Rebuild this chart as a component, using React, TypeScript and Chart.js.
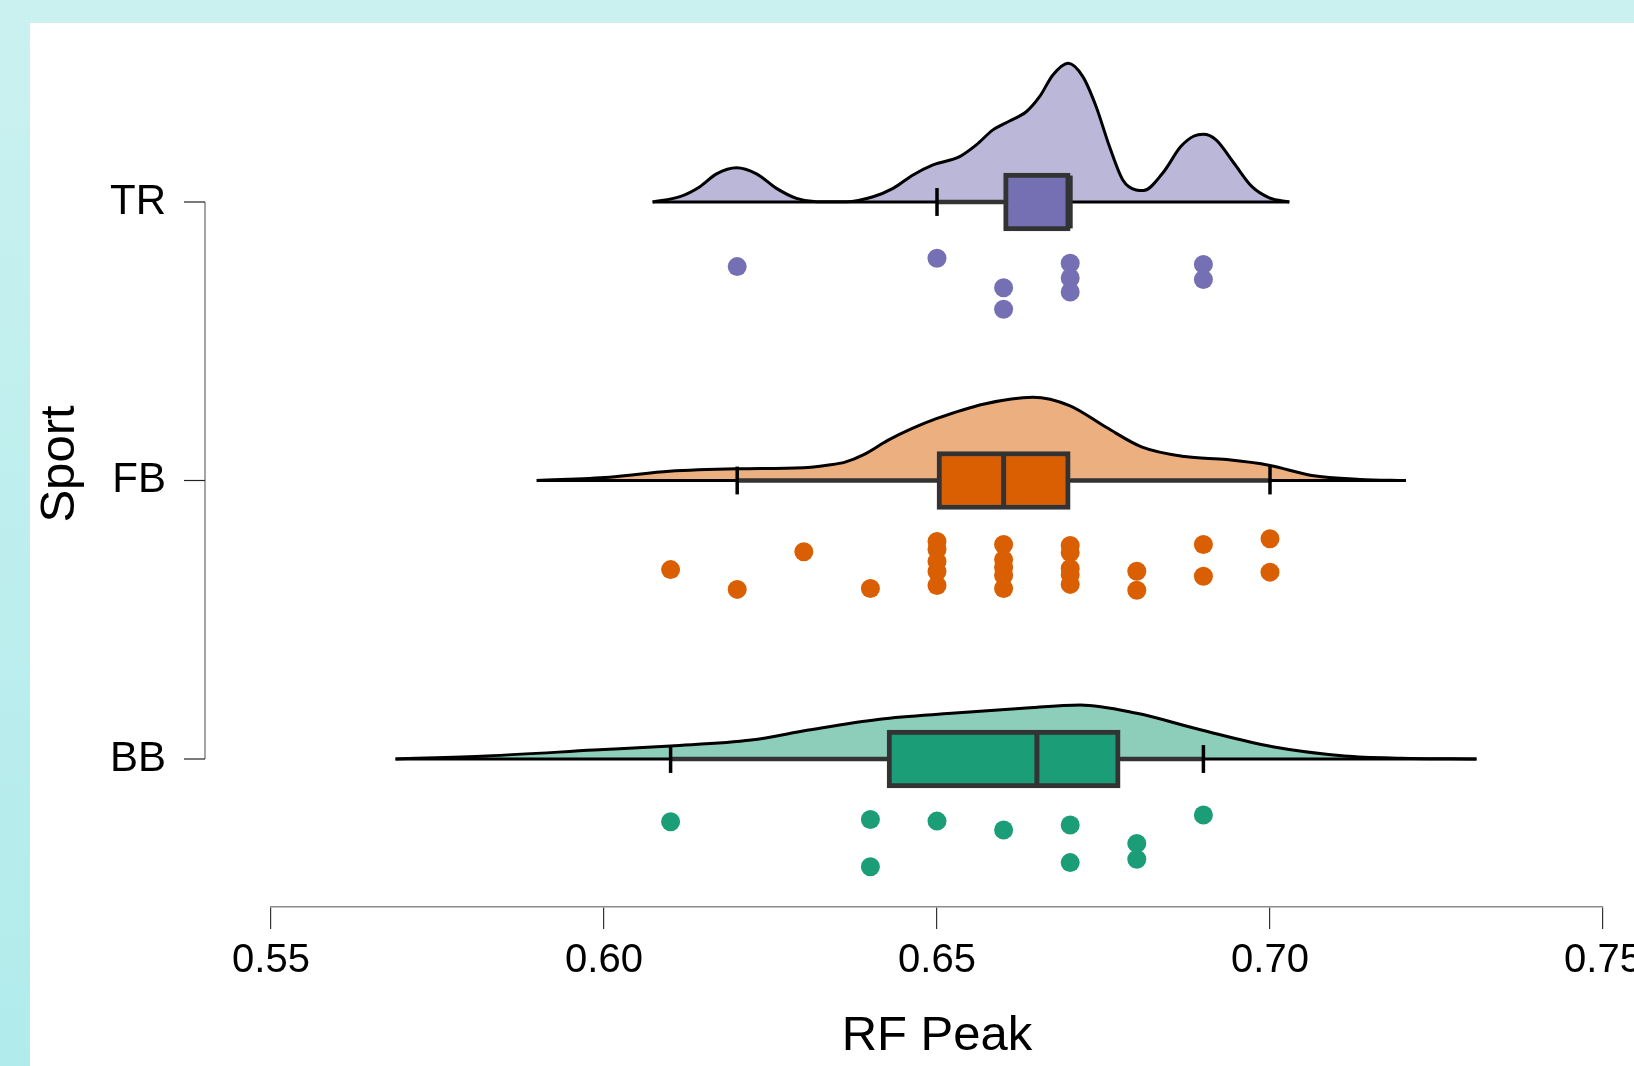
import React, { useEffect, useRef } from 'react';
import { Chart, registerables } from 'chart.js';

Chart.register(...registerables);

// ---------- data ----------
const groupNames = ['BB', 'FB', 'TR'];
const groupPos = [1, 2, 3];
const xTicks = [0.55, 0.6, 0.65, 0.7, 0.75];

// raw observations (RF Peak) and their vertical jitter below the cloud (in category units)
const trValues = [0.62, 0.65, 0.66, 0.66, 0.67, 0.67, 0.67, 0.69, 0.69];
const trJitter = [0.232, 0.202, 0.308, 0.385, 0.22, 0.273, 0.323, 0.224, 0.278];

const fbValues = [
  0.61, 0.62, 0.63, 0.64,
  0.65, 0.65, 0.65, 0.65, 0.65,
  0.66, 0.66, 0.66, 0.66, 0.66,
  0.67, 0.67, 0.67, 0.67, 0.67,
  0.68, 0.68, 0.69, 0.69, 0.7, 0.7,
];
const fbJitter = [
  0.32, 0.391, 0.256, 0.388,
  0.219, 0.248, 0.291, 0.327, 0.377,
  0.23, 0.284, 0.312, 0.341, 0.388,
  0.233, 0.259, 0.316, 0.338, 0.373,
  0.326, 0.394, 0.23, 0.344, 0.209, 0.329,
];

const bbValues = [0.61, 0.64, 0.64, 0.65, 0.66, 0.67, 0.67, 0.68, 0.68, 0.69];
const bbJitter = [0.225, 0.217, 0.387, 0.223, 0.255, 0.237, 0.372, 0.303, 0.36, 0.201];

// box statistics: [lower whisker, Q1, median, Q3, upper whisker]
const trBox = [0.65, 0.66, 0.67, 0.67, 0.67];
const fbBox = [0.62, 0.65, 0.66, 0.67, 0.7];
const bbBox = [0.61, 0.6425, 0.665, 0.6775, 0.69];

// density cloud outlines (x, height in category units above the baseline)
const trDensX = [
  0.6073, 0.6114, 0.6144, 0.6169, 0.6199, 0.6229, 0.6259, 0.6289, 0.6319, 0.6364,
  0.6404, 0.6434, 0.6464, 0.6494, 0.6534, 0.6559, 0.6584, 0.6609, 0.6634, 0.6654,
  0.6674, 0.6697, 0.6719, 0.6739, 0.6759, 0.6779, 0.6799, 0.681, 0.6839, 0.6866,
  0.6886, 0.69, 0.6919, 0.6946, 0.6973, 0.6999, 0.7029,
];
const trDensH = [
  0, 0.019, 0.055, 0.101, 0.123, 0.101, 0.049, 0.013, 0.001, 0.001,
  0.019, 0.049, 0.097, 0.133, 0.163, 0.205, 0.259, 0.291, 0.324, 0.378,
  0.456, 0.498, 0.45, 0.342, 0.199, 0.079, 0.043, 0.041, 0.104, 0.199,
  0.237, 0.243, 0.223, 0.139, 0.055, 0.015, 0,
];

const fbDensX = [
  0.5899, 0.6008, 0.6098, 0.62, 0.6299, 0.6335, 0.6362, 0.639, 0.6426, 0.6462,
  0.6499, 0.6571, 0.6644, 0.6699, 0.6754, 0.6808, 0.6872, 0.6935, 0.7, 0.7063,
  0.7135, 0.7204,
];
const fbDensH = [
  0, 0.012, 0.033, 0.042, 0.046, 0.055, 0.066, 0.093, 0.144, 0.186,
  0.222, 0.275, 0.299, 0.269, 0.191, 0.12, 0.086, 0.075, 0.054, 0.018,
  0.004, 0,
];

const bbDensX = [
  0.5687, 0.5824, 0.5985, 0.61, 0.6221, 0.6307, 0.6414, 0.6522, 0.6629, 0.6715,
  0.68, 0.6897, 0.7004, 0.7112, 0.7197, 0.731,
];
const bbDensH = [
  0, 0.011, 0.032, 0.047, 0.068, 0.104, 0.143, 0.164, 0.182, 0.194,
  0.164, 0.104, 0.044, 0.011, 0.003, 0,
];

// ---------- styles ----------
const FONT = '"Liberation Sans", Arial, Helvetica, sans-serif';
const solidColors = ['#1B9E77', '#D95F02', '#7570B3'];
const cloudColors = ['rgba(27,158,119,0.5)', 'rgba(217,95,2,0.5)', 'rgba(117,112,179,0.5)'];
const BOX_HALF = 0.095; // half height of the median bar (category units)
const CAP_HALF = 0.05;  // half height of whisker caps

const groupsData = [
  { values: bbValues, jitter: bbJitter, box: bbBox, dx: bbDensX, dh: bbDensH },
  { values: fbValues, jitter: fbJitter, box: fbBox, dx: fbDensX, dh: fbDensH },
  { values: trValues, jitter: trJitter, box: trBox, dx: trDensX, dh: trDensH },
];

function buildDatasets(): any[] {
  const ds: any[] = [];
  groupsData.forEach((g, i) => {
    const c = groupPos[i];
    // density cloud
    ds.push({
      type: 'line',
      data: g.dx.map((x, k) => ({ x, y: c + g.dh[k] })),
      borderColor: '#000',
      borderWidth: 3,
      backgroundColor: cloudColors[i],
      fill: { value: c },
      pointRadius: 0,
      cubicInterpolationMode: 'monotone',
      order: 10,
    });
    // baseline of cloud
    ds.push({
      type: 'line',
      data: [{ x: g.dx[0], y: c }, { x: g.dx[g.dx.length - 1], y: c }],
      borderColor: '#000',
      borderWidth: 3,
      pointRadius: 0,
      fill: false,
      order: 9,
    });
    // whiskers
    ds.push({
      type: 'line',
      data: [{ x: g.box[0], y: c }, { x: g.box[1], y: c }],
      borderColor: '#333',
      borderWidth: 4.5,
      pointRadius: 0,
      fill: false,
      order: 8,
    });
    ds.push({
      type: 'line',
      data: [{ x: g.box[3], y: c }, { x: g.box[4], y: c }],
      borderColor: '#333',
      borderWidth: 4.5,
      pointRadius: 0,
      fill: false,
      order: 8,
    });
    // whisker caps
    [g.box[0], g.box[4]].forEach((w) => {
      ds.push({
        type: 'line',
        data: [{ x: w, y: c - CAP_HALF }, { x: w, y: c + CAP_HALF }],
        borderColor: '#000',
        borderWidth: 3.5,
        pointRadius: 0,
        fill: false,
        order: 7,
      });
    });
    // median
    ds.push({
      type: 'line',
      data: [{ x: g.box[2], y: c - BOX_HALF }, { x: g.box[2], y: c + BOX_HALF }],
      borderColor: '#333',
      borderWidth: 5,
      pointRadius: 0,
      fill: false,
      order: 5,
    });
    // raw points
    ds.push({
      type: 'scatter',
      data: g.values.map((v, k) => ({ x: v, y: c - g.jitter[k] })),
      pointRadius: 9.5,
      pointHoverRadius: 9.5,
      pointBorderWidth: 0,
      pointBackgroundColor: solidColors[i],
      backgroundColor: solidColors[i],
      borderWidth: 0,
      order: 4,
    });
  });
  // boxes (Q1 - Q3)
  ds.push({
    type: 'bar',
    indexAxis: 'y',
    data: groupsData.map((g, i) => ({ x: [g.box[1], g.box[3]], y: groupPos[i] })),
    backgroundColor: solidColors,
    borderColor: '#333',
    borderWidth: 5,
    borderSkipped: false,
    barThickness: 58,
    grouped: false,
    order: 6,
  });
  return ds;
}

const rAxisYPlugin = {
  id: 'rAxisY',
  afterDraw(chart: any) {
    const ys = chart.scales.y;
    const ctx = chart.ctx;
    const ax = chart.chartArea.left - 66;
    const top = ys.getPixelForValue(Math.max(...groupPos));
    const bot = ys.getPixelForValue(Math.min(...groupPos));
    ctx.save();
    ctx.strokeStyle = '#7f7f7f';
    ctx.lineWidth = 1.4;
    ctx.beginPath();
    ctx.moveTo(ax, top);
    ctx.lineTo(ax, bot);
    ctx.stroke();
    ctx.strokeStyle = '#222';
    ctx.lineWidth = 1.2;
    groupPos.forEach((v) => {
      const p = ys.getPixelForValue(v);
      ctx.beginPath();
      ctx.moveTo(ax - 21, p);
      ctx.lineTo(ax, p);
      ctx.stroke();
    });
    ctx.restore();
  },
};

export default function App() {
  const ref = useRef<HTMLCanvasElement | null>(null);
  useEffect(() => {
    if (!ref.current) return;
    const chart = new Chart(ref.current, {
      type: 'scatter',
      data: { datasets: buildDatasets() },
      options: {
        animation: false,
        responsive: false,
        devicePixelRatio: 1,
        layout: { padding: { left: 0, top: 21, right: 97, bottom: 0 } },
        plugins: { legend: { display: false }, tooltip: { enabled: false } },
        scales: {
          x: {
            type: 'linear',
            min: 0.55,
            max: 0.75,
            offset: false,
            afterBuildTicks: (s: any) => { s.ticks = xTicks.map((v) => ({ value: v })); },
            afterFit: (s: any) => { s.height = 159; },
            ticks: {
              callback: (v: any) => Number(v).toFixed(2),
              font: { family: FONT, size: 40 },
              color: '#000',
              padding: 8,
              maxRotation: 0,
              autoSkip: false,
            },
            grid: {
              display: true,
              offset: false,
              drawOnChartArea: false,
              drawTicks: true,
              tickLength: 22,
              tickColor: '#333',
              tickWidth: 1.2,
              lineWidth: 1.2,
              color: '#333',
            },
            border: { display: true, color: '#8a8a8a', width: 1.6 },
            title: {
              display: true,
              text: 'RF Peak',
              font: { family: FONT, size: 49 },
              color: '#000',
              padding: { top: 0, bottom: 0 },
            },
          },
          y: {
            type: 'linear',
            min: 0.4686,
            max: 3.6499,
            offset: false,
            afterBuildTicks: (s: any) => { s.ticks = groupPos.map((v) => ({ value: v })); },
            afterFit: (s: any) => { s.width = 271; s.paddingTop = 0; s.paddingBottom = 0; },
            ticks: {
              callback: (v: any) => groupNames[groupPos.indexOf(Number(v))] ?? '',
              font: { family: FONT, size: 42 },
              color: '#000',
              padding: 105,
              autoSkip: false,
            },
            grid: { display: false, drawTicks: false, offset: false },
            border: { display: false },
            title: {
              display: true,
              text: 'Sport',
              font: { family: FONT, size: 49 },
              color: '#000',
              padding: { top: 30.6, bottom: 0 },
            },
          },
        },
      },
      plugins: [rAxisYPlugin],
    } as any);
    return () => chart.destroy();
  }, []);

  return (
    <div
      style={{
        position: 'fixed',
        left: 0,
        top: 0,
        width: '100vw',
        height: '100vh',
        overflow: 'hidden',
        background: 'linear-gradient(#CAF1F0, #B1EBEB)',
      }}
    >
      <div style={{ position: 'absolute', left: 30, top: 23, right: 0, bottom: 0, background: '#fff' }} />
      <canvas
        ref={ref}
        width={1700}
        height={1066}
        style={{ position: 'absolute', left: 0, top: 0, width: 1700, height: 1066 }}
      />
    </div>
  );
}
